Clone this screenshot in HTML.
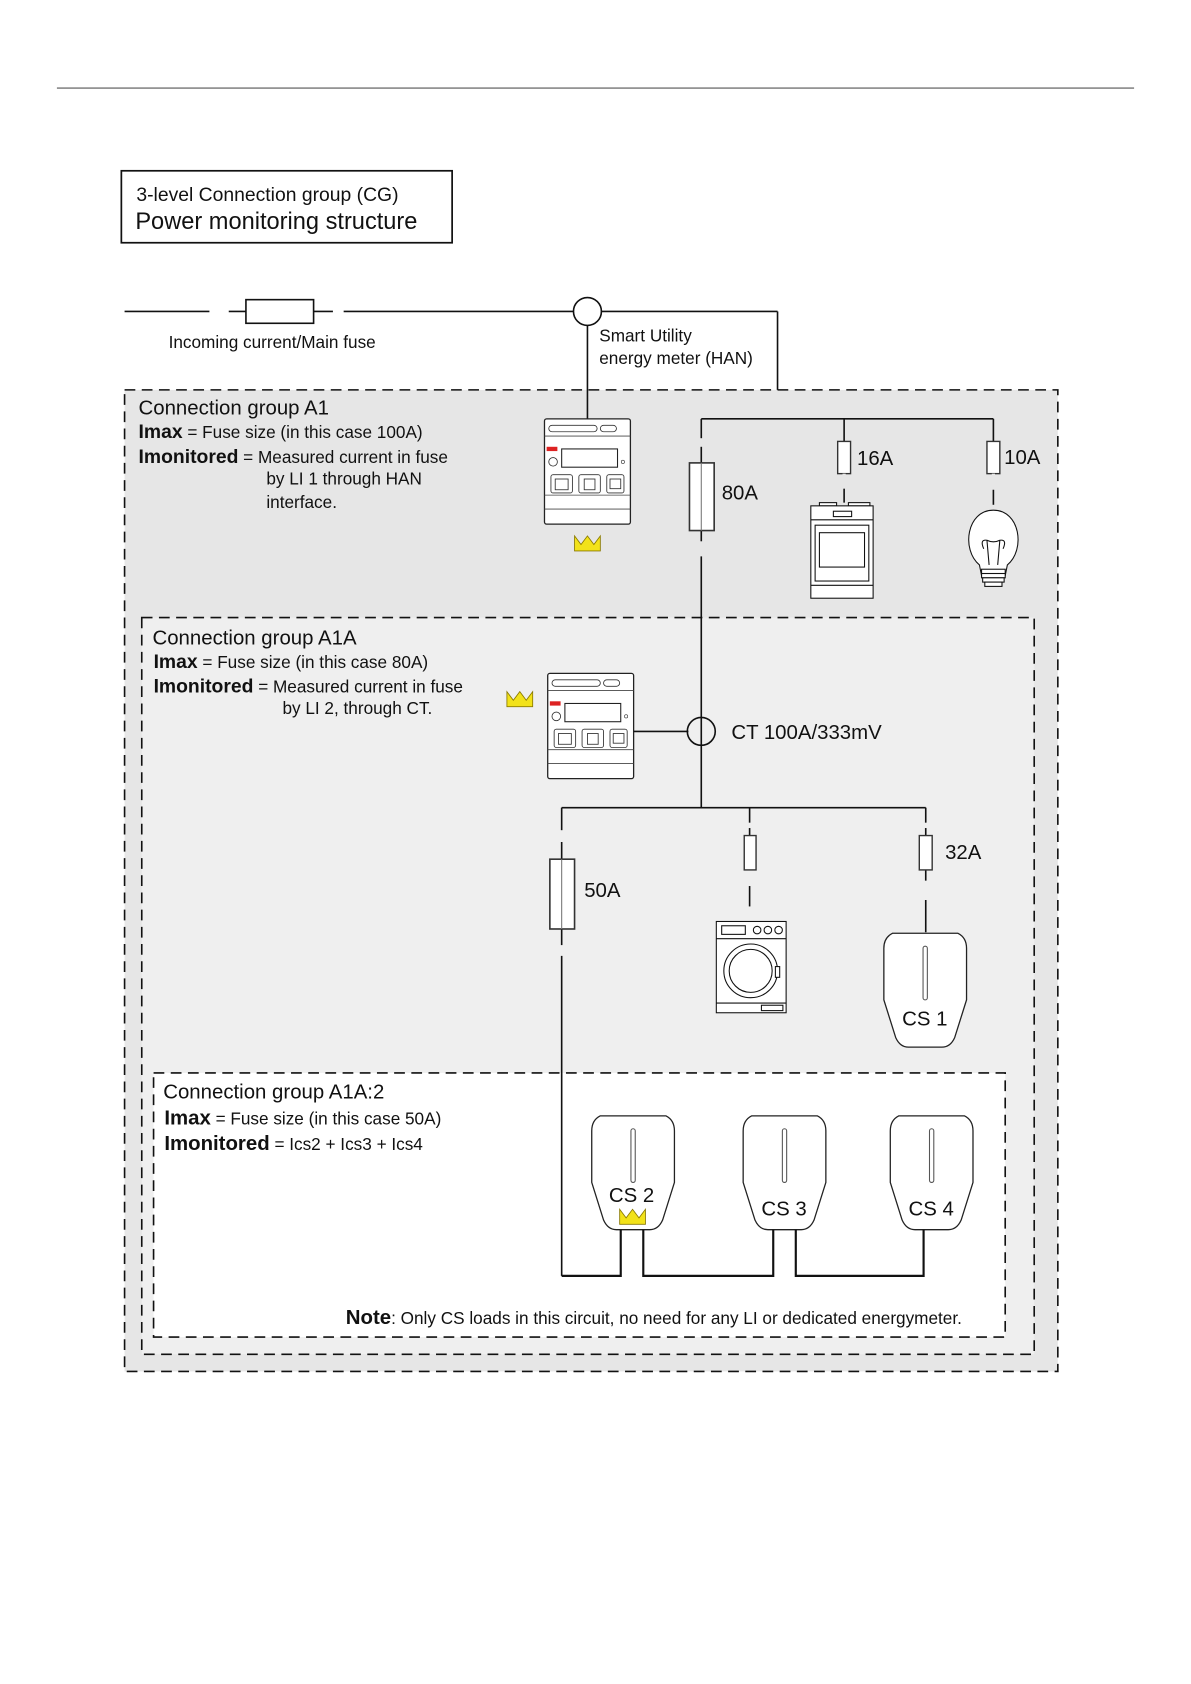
<!DOCTYPE html>
<html><head><meta charset="utf-8"><style>
html,body{margin:0;padding:0;background:#fff}
svg{display:block}
text{font-family:"Liberation Sans",sans-serif;fill:#111}
</style></head><body>
<svg width="1191" height="1684" viewBox="0 0 1109 1568" xmlns="http://www.w3.org/2000/svg">
<defs>
<g id="meter">
<rect x="0" y="0" width="80" height="98" rx="2" fill="#fff" stroke="#222" stroke-width="1.2"/>
<line x1="0" y1="16" x2="80" y2="16" stroke="#444" stroke-width="0.8"/>
<line x1="0" y1="71" x2="80" y2="71" stroke="#444" stroke-width="0.8"/>
<line x1="0" y1="84" x2="80" y2="84" stroke="#444" stroke-width="0.8"/>
<rect x="4" y="6" width="45" height="6" rx="3" fill="none" stroke="#333" stroke-width="0.8"/>
<rect x="52" y="6" width="15" height="6" rx="3" fill="none" stroke="#333" stroke-width="0.8"/>
<rect x="2" y="26" width="10" height="4" fill="#d22"/>
<rect x="16" y="28" width="52" height="17" fill="#fff" stroke="#222" stroke-width="1"/>
<circle cx="8" cy="40" r="4" fill="none" stroke="#333" stroke-width="0.8"/>
<circle cx="73" cy="40" r="1.5" fill="none" stroke="#333" stroke-width="0.6"/>
<rect x="6" y="52" width="20" height="17" rx="2" fill="none" stroke="#333" stroke-width="0.8"/>
<rect x="32" y="52" width="20" height="17" rx="2" fill="none" stroke="#333" stroke-width="0.8"/>
<rect x="58" y="52" width="16" height="17" rx="2" fill="none" stroke="#333" stroke-width="0.8"/>
<rect x="10" y="56" width="12" height="10" fill="none" stroke="#333" stroke-width="0.8"/>
<rect x="37" y="56" width="10" height="10" fill="none" stroke="#333" stroke-width="0.8"/>
<rect x="61" y="56" width="10" height="9" fill="none" stroke="#333" stroke-width="0.8"/>
</g>
<g id="crown"><path d="M0,2 L6,10 L12,2 L18,10 L24,2 L24,16 L0,16 Z" fill="#f2e21a" stroke="#8a7a00" stroke-width="0.8"/></g>
<g id="cs"><path d="M8,0 L69,0 Q77,4 77,14 L77,62 L66,97 Q62,106 54,106 L23,106 Q15,106 11,97 L0,62 L0,14 Q0,4 8,0 Z" fill="#fff" stroke="#222" stroke-width="1.2"/>
<rect x="36.5" y="12" width="4" height="50" rx="2" fill="#fff" stroke="#555" stroke-width="1"/></g>
</defs>

<line x1="53" y1="82" x2="1056" y2="82" stroke="#555" stroke-width="1"/>

<rect x="113" y="159" width="308" height="67" fill="#fff" stroke="#111" stroke-width="1.6"/>
<text x="127" y="187" font-size="18">3-level Connection group (CG)</text>
<text x="126" y="213" font-size="22">Power monitoring structure</text>

<g stroke="#111" stroke-width="1.5" fill="none">
<line x1="116" y1="290" x2="195" y2="290"/>
<line x1="213" y1="290" x2="310" y2="290"/>
<line x1="320" y1="290" x2="534" y2="290"/>
<line x1="560" y1="290" x2="724" y2="290"/>
<line x1="724" y1="290" x2="724" y2="390"/>
</g>
<rect x="229" y="279" width="63" height="22" fill="#fff" stroke="#111" stroke-width="1.5"/>
<text x="157" y="324" font-size="16">Incoming current/Main fuse</text>
<text x="558" y="318" font-size="16">Smart Utility</text>
<text x="558" y="339" font-size="16">energy meter (HAN)</text>

<rect x="116" y="363" width="869" height="914" fill="#e6e6e6" stroke="#111" stroke-width="1.5" stroke-dasharray="10,6"/>
<rect x="132" y="575" width="831" height="686" fill="#efefef" stroke="#111" stroke-width="1.5" stroke-dasharray="10,6"/>
<rect x="143" y="999" width="793" height="246" fill="#fff" stroke="#111" stroke-width="1.5" stroke-dasharray="10,6"/>

<circle cx="547" cy="290" r="13" fill="#fff" stroke="#111" stroke-width="1.5"/>
<line x1="547" y1="303" x2="547" y2="390" stroke="#111" stroke-width="1.5"/>

<text x="129" y="386" font-size="19">Connection group A1</text>
<text x="129" y="408" font-size="16"><tspan font-weight="bold" font-size="18">Imax</tspan> = Fuse size (in this case 100A)</text>
<text x="129" y="431" font-size="16"><tspan font-weight="bold" font-size="18">Imonitored</tspan> = Measured current in fuse</text>
<text x="248" y="451" font-size="16">by LI 1 through HAN</text>
<text x="248" y="473" font-size="16">interface.</text>

<use href="#meter" x="507" y="390"/>
<use href="#crown" x="535" y="497"/>

<g stroke="#111" stroke-width="1.5" fill="none">
<line x1="653" y1="390" x2="925" y2="390"/>
<line x1="653" y1="390" x2="653" y2="408"/>
<line x1="653" y1="416" x2="653" y2="431"/>
<line x1="653" y1="494" x2="653" y2="504"/>
<line x1="653" y1="518" x2="653" y2="752"/>
<line x1="786" y1="390" x2="786" y2="468"/>
<line x1="925" y1="390" x2="925" y2="470"/>
</g>
<rect x="642" y="431" width="23" height="63" fill="#fff" stroke="#333" stroke-width="1.5"/>
<line x1="653" y1="431" x2="653" y2="494" stroke="#777" stroke-width="1"/>
<text x="672" y="465" font-size="19">80A</text>
<rect x="780" y="411" width="12" height="30" fill="#fff" stroke="#333" stroke-width="1.3"/>
<text x="798" y="433" font-size="19">16A</text>
<rect x="919" y="411" width="12" height="30" fill="#fff" stroke="#333" stroke-width="1.3"/>
<text x="935" y="432" font-size="19">10A</text>
<line x1="786" y1="441" x2="786" y2="455" stroke="#e6e6e6" stroke-width="3"/>
<line x1="925" y1="441" x2="925" y2="456" stroke="#e6e6e6" stroke-width="3"/>

<g stroke="#111" stroke-width="1" fill="#fff">
<rect x="763" y="468" width="16" height="3"/><rect x="790" y="468" width="20" height="3"/>
<rect x="755" y="471" width="58" height="86"/>
<line x1="755" y1="484" x2="813" y2="484"/>
<rect x="776" y="476" width="17" height="5"/>
<rect x="759" y="489" width="50" height="52"/>
<rect x="763" y="496" width="42" height="32"/>
<line x1="755" y1="545" x2="813" y2="545"/>
</g>
<g stroke="#111" stroke-width="1" fill="#fff">
<path d="M912,526 C895,512 900,475 925,475 C950,475 955,512 938,526 L936,536 L914,536 Z"/>
<path d="M916,511 Q912,502 919,503 Q925,506 931,503 Q938,502 934,511 M919,503 L921,526 M931,503 L929,526" fill="none"/>
<rect x="914" y="530" width="22" height="4"/><rect x="914" y="534" width="22" height="4"/><rect x="915" y="538" width="20" height="4"/><rect x="917" y="542" width="16" height="4"/>
</g>

<text x="142" y="600" font-size="19">Connection group A1A</text>
<text x="143" y="622" font-size="16"><tspan font-weight="bold" font-size="18">Imax</tspan> = Fuse size (in this case 80A)</text>
<text x="143" y="645" font-size="16"><tspan font-weight="bold" font-size="18">Imonitored</tspan> = Measured current in fuse</text>
<text x="263" y="665" font-size="16">by LI 2, through CT.</text>
<use href="#crown" x="472" y="642"/>
<use href="#meter" x="510" y="627"/>
<line x1="590" y1="681" x2="641" y2="681" stroke="#111" stroke-width="1.5"/>
<circle cx="653" cy="681" r="13" fill="none" stroke="#111" stroke-width="1.5"/>
<text x="681" y="688" font-size="19">CT 100A/333mV</text>

<g stroke="#111" stroke-width="1.5" fill="none">
<line x1="523" y1="752" x2="862" y2="752"/>
<line x1="523" y1="752" x2="523" y2="773"/>
<line x1="523" y1="784" x2="523" y2="880"/>
<line x1="523" y1="890" x2="523" y2="1188"/>
<line x1="698" y1="752" x2="698" y2="766"/>
<line x1="698" y1="771" x2="698" y2="810"/>
<line x1="698" y1="825" x2="698" y2="844"/>
<line x1="862" y1="752" x2="862" y2="766"/>
<line x1="862" y1="771" x2="862" y2="820"/>
<line x1="862" y1="838" x2="862" y2="868"/>
</g>
<rect x="512" y="800" width="23" height="65" fill="#fff" stroke="#333" stroke-width="1.5"/>
<line x1="523" y1="800" x2="523" y2="865" stroke="#777" stroke-width="1"/>
<text x="544" y="835" font-size="19">50A</text>
<rect x="693" y="778" width="11" height="32" fill="#fff" stroke="#333" stroke-width="1.3"/>
<rect x="856" y="778" width="12" height="32" fill="#fff" stroke="#333" stroke-width="1.3"/>
<text x="880" y="800" font-size="19">32A</text>

<g stroke="#111" stroke-width="1" fill="#fff">
<rect x="667" y="858" width="65" height="85"/>
<line x1="667" y1="874" x2="732" y2="874"/>
<line x1="667" y1="934" x2="732" y2="934"/>
<rect x="672" y="862" width="22" height="8"/>
<circle cx="705" cy="866" r="3.5"/><circle cx="715" cy="866" r="3.5"/><circle cx="725" cy="866" r="3.5"/>
<circle cx="699" cy="904" r="25"/><circle cx="699" cy="904" r="20"/>
<rect x="722" y="900" width="4" height="10"/>
<rect x="709" y="936" width="20" height="5"/>
</g>

<use href="#cs" x="823" y="869"/>
<text x="840" y="955" font-size="19">CS 1</text>

<text x="152" y="1023" font-size="19">Connection group A1A:2</text>
<text x="153" y="1047" font-size="16"><tspan font-weight="bold" font-size="19">Imax</tspan> = Fuse size (in this case 50A)</text>
<text x="153" y="1071" font-size="16"><tspan font-weight="bold" font-size="19">Imonitored</tspan> = Ics2 + Ics3 + Ics4</text>

<use href="#cs" x="551" y="1039"/>
<use href="#cs" x="692" y="1039"/>
<use href="#cs" x="829" y="1039"/>
<text x="567" y="1119" font-size="19">CS 2</text>
<use href="#crown" x="577" y="1124"/>
<text x="709" y="1132" font-size="19">CS 3</text>
<text x="846" y="1132" font-size="19">CS 4</text>

<g stroke="#111" stroke-width="2" fill="none">
<polyline points="523,1188 578,1188 578,1145"/>
<polyline points="599,1145 599,1188 720,1188 720,1145"/>
<polyline points="741,1145 741,1188 860,1188 860,1145"/>
</g>

<text x="322" y="1233" font-size="16"><tspan font-weight="bold" font-size="19">Note</tspan>: Only CS loads in this circuit, no need for any LI or dedicated energymeter.</text>
</svg>
</body></html>
